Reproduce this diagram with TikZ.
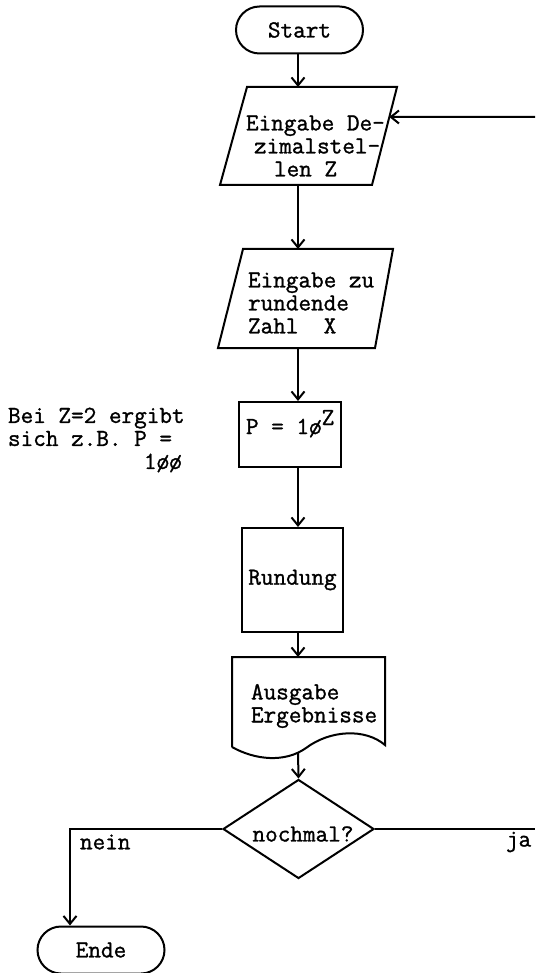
\documentclass[tikz,border=0pt]{standalone}
\usepackage{fontspec}
\newfontfamily\tw[FakeBold=1.2]{Latin Modern Mono}
\usetikzlibrary{arrows.meta,shapes.misc,shapes.geometric,calc}
\begin{document}
\begin{tikzpicture}[x=1pt,y=-1pt,
  line width=2pt,
  every node/.style={font=\tw\fontsize{24.5}{23}\selectfont, inner sep=0pt},
  term/.style={draw, rounded rectangle, minimum width=127pt, minimum height=47pt},
  box/.style={draw, rectangle},
  arr/.style={-{Straight Barb[length=8pt,width=13pt]}}]
\useasboundingbox (0,0) rectangle (535,973);
\coordinate (axis) at (298,0);
\coordinate (nk) at (70,0);
% Start
\node[term] (start) at (299.5,30) {Start};
% Eingabe Dezimalstellen
\coordinate (p1a) at (247,87);
\coordinate (p1b) at (397,87);
\coordinate (p1c) at (372,185);
\coordinate (p1d) at (220,185);
\draw (p1a) -- (p1b) -- (p1c) -- (p1d) -- cycle;
\node[align=left, anchor=west] (t1) at (245,146) {Eingabe De-\\\hspace*{8pt}zimalstel-\\\hspace*{28pt}len Z};
\coordinate (p1in) at ($(p1b)!0.306!(p1c)$);
\coordinate (loopin) at (535,117);
% Eingabe Zahl
\coordinate (p2a) at (243,249);
\coordinate (p2b) at (393,249);
\coordinate (p2c) at (375,348);
\coordinate (p2d) at (218,348);
\draw (p2a) -- (p2b) -- (p2c) -- (p2d) -- cycle;
\node[align=left, anchor=west] (t2) at (247,303) {Eingabe zu\\rundende\\Zahl~~X};
% P box
\node[box, minimum width=102pt, minimum height=65pt] (pbox) at (290,434.5) {};
\node[anchor=base west] (ptext) at (245,434) {P = 1ø\raisebox{9pt}{Z}};
% note
\node[align=left, anchor=west] (note) at (7,440) {Bei Z=2 ergibt\\sich z.B. P =\\\hspace*{136pt}1øø};
% Rundung
\node[box, minimum width=101pt, minimum height=104pt] (rund) at (292.5,580) {Rundung};
% Ausgabe document
\coordinate (doctop) at (298,657);
\coordinate (docbot) at (298,752);
\draw (232,747) -- (232,657) -- (385,657) -- (385,745)
  .. controls (365,728) and (330,730) .. (306,748)
  .. controls (285,763) and (255,760) .. (232,747);
\node[align=left, anchor=west] (t3) at (250,706) {Ausgabe\\Ergebnisse};
% decision
\node[draw, diamond, minimum width=151pt, minimum height=99pt, aspect=1.5] (dec) at (298.5,829) {};
\node (dectext) at (303,834) {nochmal?};
\coordinate (jaend) at (535,828);
\node[anchor=west] (ja) at (505,842) {ja};
\node[anchor=west] (nein) at (79,842) {nein};
% Ende
\node[term] (ende) at (101,950) {Ende};
% connectors
\draw[arr] (start.south -| axis) -- (p1a -| axis);
\draw[arr] (loopin) -- (p1in);
\draw[arr] (p1d -| axis) -- (p2a -| axis);
\draw[arr] (p2d -| axis) -- (pbox.north -| axis);
\draw[arr] (pbox.south -| axis) -- (rund.north -| axis);
\draw[arr] (rund.south -| axis) -- (doctop);
\draw[arr] (docbot) -- (dec.north);
\draw (dec.east) -- (dec.east -| jaend);
\draw[arr] (dec.west) -- (dec.west -| nk) -- (ende.north -| nk);
\end{tikzpicture}
\end{document}
